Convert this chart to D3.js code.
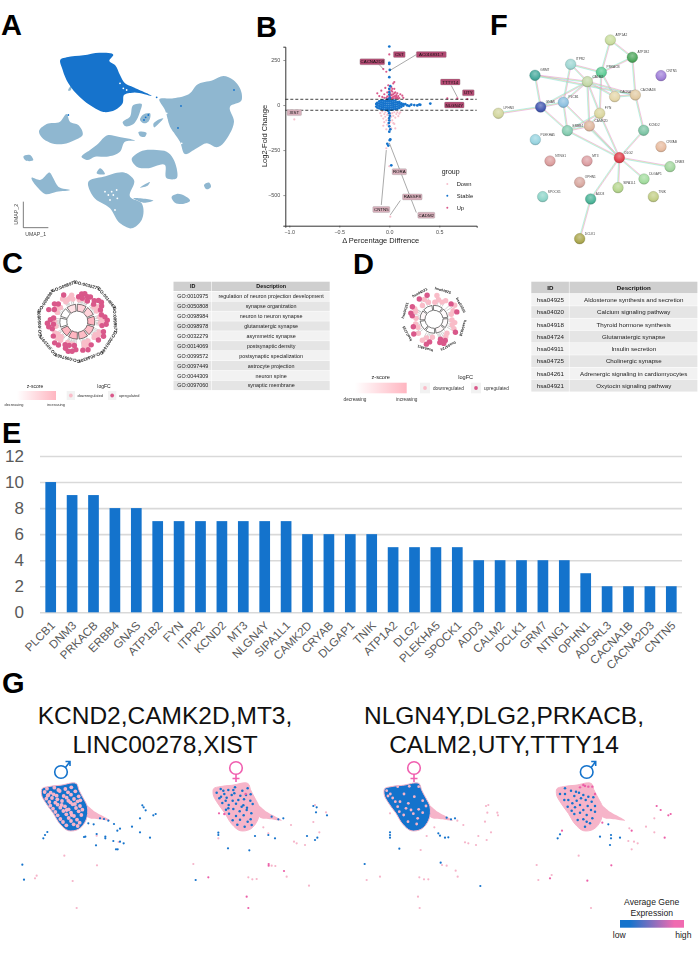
<!DOCTYPE html>
<html><head><meta charset="utf-8">
<script src="https://cdn.jsdelivr.net/npm/d3@7/dist/d3.min.js"></script>
<style>html,body{margin:0;padding:0;background:#fff}svg{display:block}text{font-family:"Liberation Sans",Arial,sans-serif}</style>
</head><body><svg id="c" width="698" height="953" xmlns="http://www.w3.org/2000/svg"></svg>
<script>
// ---------- Panel A: UMAP cluster outlines (umap units) ----------
const umapTarget=[[182,178],[200,172],[250,166],[300,158],[340,165],[328,183],[345,195],[360,225],[375,250],[400,262],[455,288],[400,278],[372,285],[368,310],[345,330],[310,336],[280,322],[240,292],[205,250],[188,210]];
const umapOthers=[
[[478,298],[520,295],[570,280],[590,255],[640,240],[670,228],[700,240],[725,280],[725,300],[690,320],[702,365],[690,400],[650,442],[620,430],[590,445],[555,462],[540,425],[510,380],[495,330]],
[[117,395],[140,372],[180,365],[200,342],[210,365],[235,375],[248,405],[225,420],[190,432],[150,428],[125,412]],
[[245,472],[270,450],[290,435],[325,405],[355,410],[405,422],[375,425],[360,455],[320,470],[285,470],[260,480]],
[[368,368],[390,350],[400,315],[425,312],[420,335],[395,375],[375,378]],
[[415,397],[440,400],[435,410],[420,408]],
[[428,345],[450,340],[445,365],[432,370],[420,360]],
[[395,478],[420,455],[470,450],[500,455],[530,505],[530,535],[500,535],[495,495],[440,505],[410,500]],
[[70,470],[90,465],[100,480],[75,480]],
[[95,533],[120,540],[150,518],[160,535],[175,560],[210,570],[170,575],[135,582],[115,565]],
[[265,545],[310,530],[380,520],[402,540],[390,590],[425,610],[425,660],[395,685],[360,670],[330,625],[280,590]],
[[420,563],[450,547],[445,555]],[[290,520],[300,505],[315,522]],[[400,595],[460,602],[430,608]],
[[515,590],[530,582],[570,603],[545,612],[525,608]],[[612,555],[628,548],[633,560],[620,568]],[[205,272],[215,255],[210,272]],
[[460,372],[470,362],[490,355],[475,372],[462,382]]];
const umapHoles=[[340,585],[350,570],[330,600],[345,630],[352,595],[315,575],[500,340],[520,400],[530,430],[370,265],[360,250],[380,270],[335,575],[325,585],[500,360],[545,430]];
const umapDark=[[432,360],[437,352],[445,345],[205,345],[470,292],[543,318],[702,270],[534,384]];
// ---------- Panel B: volcano values ----------
const volUp=[[0,281],[-.06,200],[-.03,185],[.58,37],[.68,37],[.78,33],[-.12,65],[-.1,50],[-.08,80],[-.07,45],[-.05,60],[-.04,95],[-.03,40],[-.02,70],[-.01,110],[0,50],[0,85],[.01,40],[.01,65],[.02,100],[.02,55],[.03,75],[.03,42],[.04,120],[.04,60],[.05,90],[.05,48],[.06,70],[.06,38],[.07,55],[.08,42],[.08,65],[.09,50],[.1,38],[.11,60],[.13,52],[.14,40],[.05,128],[-.02,48],[-.05,40],[.02,38],[.04,36],[.06,50],[.07,40],[.09,36],[.03,58],[.05,66],[.02,80],[.01,52],[.04,46],[.07,46],[-.01,36],[.03,90]];
const volDown=[[0,-340],[.01,-620],[-.03,-240],[-.95,-80],[-.09,-45],[-.08,-60],[-.07,-35],[-.06,-75],[-.05,-50],[-.05,-95],[-.04,-40],[-.04,-65],[-.03,-85],[-.02,-55],[-.02,-110],[-.01,-45],[-.01,-75],[.01,-50],[.01,-95],[.02,-65],[.02,-130],[.03,-45],[.03,-85],[.04,-60],[.05,-40],[.05,-105],[.06,-70],[.07,-50],[.08,-40],[.09,-62],[.1,-48],[.11,-40],[.06,-130],[-.03,-135],[-.06,-115],[.04,-100]];
const volStable=[[0,325],[0,235],[0,228],[.005,195],[0,155],[.01,105],[0,90],[0,72],[0,58],[.005,42],[0,35],[-.01,-32],[0,-45],[.005,-60],[0,-72],[0,-85],[-.005,-100],[0,-118],[.01,-135],[0,-148],[.01,-190],[.005,-195],[-.01,-225],[-.02,-215],[.02,-335],
[-.13,-8],[-.13,6],[-.12,-14],[-.12,2],[-.12,12],[-.1,-18],[-.1,-5],[-.1,8],[-.1,20],[-.08,-22],[-.08,-10],[-.08,2],[-.08,14],[-.08,25],[-.06,-24],[-.06,-12],[-.06,0],[-.06,12],[-.06,24],[-.04,-26],[-.04,-14],[-.04,-2],[-.04,10],[-.04,22],[-.02,-28],[-.02,-16],[-.02,-4],[-.02,8],[-.02,20],[-.02,30],[0,-28],[0,-16],[0,-4],[0,8],[0,20],[0,30],[.02,-26],[.02,-14],[.02,-2],[.02,10],[.02,22],[.04,-24],[.04,-12],[.04,0],[.04,12],[.04,24],[.06,-22],[.06,-10],[.06,2],[.06,14],[.06,25],[.08,-20],[.08,-8],[.08,4],[.08,16],[.1,-16],[.1,-4],[.1,8],[.1,18],[.12,-10],[.12,2],[.12,10],[.14,-4],[.14,5],[.16,5],[.18,-2],[.2,-5],[.22,2],[.25,0],[.28,-2],[.3,3],[.31,1],[.41,8]];
const volLabels=[["CST",.1,281,1],["AC016831.7",.42,280,1],["CACNA2D3",-.17,240,1],["TTTY14",.61,128,1],["UTY",.79,68,1],["NLGN4Y",.65,0,1],["XIST",-.95,-42,0],["RORA",.1,-370,0],["RASSF8",.23,-510,0],["CNTN5",-.08,-580,0],["CADM2",.37,-612,0]];
const volLinks=[[-.11,230,-.06,200],[.27,280,0,190],[.62,108,.68,45],[.27,-597,0,-210],[-.08,-555,-.03,-250],[.11,-530,.01,-610]];
const volTicksX=[-1,-.5,0,.5], volTicksY=[250,0,-250,-500];
const volGroups=["Down","Stable","Up"];
// ---------- Panel C ----------
const goIds=["GO:0010975","GO:0050808","GO:0098984","GO:0098978","GO:0032279","GO:0014069","GO:0099572","GO:0097449","GO:0044309","GO:0097060"];
const goDesc=["regulation of neuron projection development","synapse organization","neuron to neuron synapse","glutamatergic synapse","asymmetric synapse","postsynaptic density","postsynaptic specialization","astrocyte projection","neuron spine","synaptic membrane"];
const goZ=[.6,.6,1,.9,.9,1,1,0,0,.4];
const goSector=[6,7,8,9,0,1,2,3,4,5];
const goDots=[[0,-12,25,1],[0,-6,28,1],[0,0,29,1],[0,7,27,1],[0,13,28,1],[0,-3,24,1],[0,5,23,0],[0,-10,22,0],[0,11,23,1],
[1,-12,27,1],[1,-6,30,1],[1,0,31,1],[1,6,29,1],[1,12,26,1],[1,-8,24,1],[1,3,25,0],[1,10,22,0],[1,-3,22,0],
[2,-13,25,1],[2,-7,28,1],[2,0,30,1],[2,8,29,1],[2,12,25,1],[2,0,25,0],[2,6,23,0],[2,-8,23,0],
[3,-12,28,1],[3,-4,30,1],[3,8,28,1],[3,0,25,0],[3,10,23,0],[3,-8,24,0],[3,3,22,0],
[4,-10,27,1],[4,0,30,1],[4,10,29,1],[4,-3,25,0],[4,5,25,0],[4,-8,22,0],[4,3,22,0],
[5,-12,28,1],[5,-5,30,1],[5,2,31,1],[5,9,29,1],[5,13,26,1],[5,-8,24,1],[5,4,25,1],[5,10,23,0],[5,-2,23,0],
[6,-12,30,1],[6,-4,31,1],[6,8,28,1],[6,12,25,0],[6,-9,25,0],[6,0,26,0],[6,6,23,0],[6,-4,22,0],
[7,-13,26,1],[7,-7,29,1],[7,0,30,1],[7,7,27,1],[7,12,24,1],[7,-3,24,1],[7,4,23,0],[7,-9,22,0],
[8,-10,31,1],[8,0,25,0],[8,5,29,1],[8,10,26,1],[8,-5,26,1],[8,-8,22,0],[8,7,22,0],
[9,-12,27,0],[9,-6,30,1],[9,4,25,0],[9,10,23,0],[9,-3,24,0],[9,9,27,0],[9,-9,23,0]];
// ---------- Panel D ----------
const keggIds=["hsa04925","hsa04020","hsa04918","hsa04724","hsa04911","hsa04725","hsa04261","hsa04921"];
const keggDesc=["Aldosterone synthesis and secretion","Calcium signaling pathway","Thyroid hormone synthesis","Glutamatergic synapse","Insulin secretion","Cholinergic synapse","Adrenergic signaling in cardiomyocytes","Oxytocin signaling pathway"];
const keggSector=[0,1,2,3,4,5,6,7];
const keggZ=[0,.05,.05,.1,0,0,.1,0];
const keggDots=[[0,-14,17,0],[0,-4,20,0],[0,8,19,0],[0,15,22,0],[0,-10,24,0],
[1,-14,23,1],[1,-6,25,0],[1,4,21,0],[1,12,18,0],[1,10,24,1],
[2,-15,18,0],[2,-8,21,0],[2,0,19,0],[2,8,22,0],[2,14,25,1],
[3,-15,19,0],[3,-6,21,0],[3,0,24,1],[3,6,26,1],[3,14,24,1],[3,10,21,1],
[4,-12,18,0],[4,-6,23,1],[4,5,20,0],[4,12,24,0],[4,0,26,1],
[5,-14,21,0],[5,-8,25,1],[5,2,18,0],[5,8,22,1],[5,14,19,0],
[6,-14,18,0],[6,-8,22,1],[6,-2,24,1],[6,6,20,0],[6,12,22,0],[6,13,25,1],
[7,-12,18,0],[7,-8,25,1],[7,2,22,0],[7,10,18,0],[7,12,25,1]];
const sharedLegend=["downregulated","upregulated"];
// ---------- Panel E ----------
const genes=["PLCB1","DNM3","PRKACB","ERBB4","GNAS","ATP1B2","FYN","ITPR2","KCND2","MT3","NLGN4Y","SIPA1L1","CAMK2D","CRYAB","DLGAP1","TNIK","ATP1A2","DLG2","PLEKHA5","SPOCK1","ADD3","CALM2","DCLK1","GRM7","NTNG1","OPHN1","ADGRL3","CACNA1B","CACNA2D3","CNTN5"];
const geneCounts=[10,9,9,8,8,7,7,7,7,7,7,7,6,6,6,6,5,5,5,5,4,4,4,4,4,3,2,2,2,2];
const countTicks=[0,2,4,6,8,10,12];
// ---------- Panel F: STRING network ----------
const netNodes=[["ATP1A2",391,120,"#c9dd9e"],["ATP1B2",457,172,"#4ea65c"],["GRM7",165,226,"#46a99c"],["ITPR2",272,193,"#9ed6d2"],["PRKACB",364,217,"#5ccb94"],["CALM2",322,245,"#c3d8a6"],["CACNA2D3",404,290,"#e4d6a8"],["CACNA1B",466,285,"#e2caa2"],["PLCB1",250,307,"#8cc0e0"],["GNAS",182,321,"#4458b0"],["FYN",359,340,"#dad69e"],["CAMK2D",328,378,"#deb69e"],["ERBB4",262,392,"#84ccb0"],["KCND2",491,391,"#7cc4a4"],["LPHN3",55,340,"#d2d69e"],["PLEKHA5",166,419,"#98d4e0"],["CRYAB",543,440,"#e8bca0"],["NTNG1",210,483,"#dc9e9e"],["MT3",321,483,"#dc9ea2"],["DLG2",418,473,"#e0404c"],["DNM3",570,500,"#a2d69e"],["DLGAP1",492,537,"#a2dc9e"],["SPOCK1",188,590,"#8cd4c8"],["OPHN1",299,547,"#d8a8a0"],["SIPA1L1",414,563,"#b6d68e"],["TNIK",520,590,"#c2ce86"],["ADD3",332,597,"#4cb498"],["DCLK1",299,716,"#aca850"],["CNTN5",543,227,"#a080d8"]];
const netEdges=[["ATP1A2","ATP1B2"],["ATP1A2","PRKACB"],["ATP1B2","PRKACB"],["ATP1B2","CACNA1B"],["ITPR2","PRKACB"],["ITPR2","CALM2"],["ITPR2","PLCB1"],["GRM7","CALM2"],["GRM7","GNAS"],["GRM7","CACNA1B"],["PRKACB","CALM2"],["PRKACB","FYN"],["PRKACB","CACNA2D3"],["CALM2","CACNA2D3"],["CALM2","CACNA1B"],["CALM2","GNAS"],["CALM2","PLCB1"],["CALM2","FYN"],["CALM2","CAMK2D"],["CACNA2D3","CACNA1B"],["CACNA1B","KCND2"],["PLCB1","GNAS"],["GNAS","LPHN3"],["GNAS","ERBB4"],["PLCB1","ERBB4"],["PLCB1","DLG2"],["FYN","ERBB4"],["FYN","CAMK2D"],["FYN","DLG2"],["CAMK2D","DLG2"],["CAMK2D","ERBB4"],["ERBB4","DLG2"],["KCND2","DLG2"],["DLG2","DNM3"],["DLG2","DLGAP1"],["DLG2","SIPA1L1"],["DLG2","ADD3"],["ADD3","DCLK1"]];
// ---------- Panel G ----------
const gTitles=[["KCND2,CAMK2D,MT3,","LINC00278,XIST"],["NLGN4Y,DLG2,PRKACB,","CALM2,UTY,TTTY14"]];
const gSexes=["m","f","f","m"];
const gBody=[[126,356],[145,350],[180,346],[232,344],[236,358],[250,385],[262,410],[258,450],[235,478],[205,482],[180,462],[160,430],[135,395],[125,375]];
const gTail=[[255,405],[285,425],[330,452],[300,448],[262,440],[255,425]];
const gBaseLow=[1,0,1,0];
const gSpecks=[
[[141,356],[163,353],[196,357],[214,352],[134,366],[152,368],[179,363],[204,367],[226,364],[143,377],[161,373],[191,378],[213,374],[236,379],[139,386],[156,384],[172,388],[200,383],[222,387],[241,391],[148,396],[166,398],[186,393],[211,397],[233,394],[151,407],[173,404],[195,409],[218,403],[240,408],[159,416],[181,413],[206,418],[228,414],[247,419],[166,426],[190,423],[213,428],[236,424],[173,436],[199,433],[222,438],[244,435],[181,447],[206,444],[231,449],[189,456],[213,453],[239,458],[199,466],[221,463],[233,468],[145,375],[170,377],[205,392],[215,435],[185,405],[225,402],[200,420],[175,360]],
[[147,357],[170,360],[190,352],[212,362],[228,355],[135,368],[158,372],[188,370],[206,377],[237,373],[143,385],[165,383],[183,392],[217,388],[236,392],[152,399],[171,405],[193,401],[215,406],[243,402],[163,419],[185,417],[204,424],[226,413],[172,431],[193,438],[216,436],[239,430],[183,451],[205,449],[228,455],[197,464],[219,470],[237,448],[162,392],[200,390],[225,420],[180,375],[210,410],[155,362],[148,380],[240,465],[185,360],[223,375],[170,415]],
[[132,362],[165,350],[200,349],[228,350],[150,384],[184,372],[215,380],[240,392],[165,410],[197,400],[228,418],[183,435],[212,431],[240,428],[196,455],[222,462],[143,372],[172,395],[205,420],[250,408],[158,395],[190,415],[225,445],[170,425],[136,378]],
[[150,372],[168,362],[178,378],[192,368],[185,392],[205,375],[212,390],[195,405],[218,408],[172,400],[160,390],[230,395],[148,390],[180,412],[205,420],[228,420],[195,428],[215,435],[178,432],[240,425],[205,448],[188,450],[225,460],[210,470],[232,445],[240,408],[135,372],[158,410],[170,422],[220,380],[198,385],[183,365],[150,355],[235,382],[215,455]]];
const gTopDeep=[[],[[222,372],[158,432]],[],[[210,348],[220,350],[232,350],[195,352],[240,372],[205,345]]];
const gLow=[
[[265,460],[281,463],[342,462],[360,476],[352,482],[396,470],[420,487],[450,503],[420,445],[427,406],[431,412],[437,421],[460,436],[467,432],[130,505],[135,495],[142,486],[252,501],[256,500],[288,526],[316,500],[316,505],[340,513],[360,515],[371,520],[348,538],[353,538],[67,584],[72,629],[300,445],[312,447],[325,452],[290,492]],
[[765,498],[684,535],[748,541],[587,630],[655,488],[655,495],[921,498],[945,510],[952,503],[948,427],[940,408],[950,412],[981,436],[850,445],[835,448],[815,440],[825,505],[805,495]],
[[1198,536],[1094,582],[1441,648],[1170,487],[1170,495],[1170,503],[1315,490],[1320,497],[1335,503],[1345,502],[1340,443],[1353,448],[1365,445],[1322,578]],
[[1673,505],[1680,493],[1800,500],[1825,463],[1833,495],[1833,505],[1860,503],[1830,525]]];
const gLight=[
[[193,557],[291,586],[218,633],[230,714],[105,625],[110,617],[290,497],[356,516]],
[[873,465],[790,472],[940,456],[958,487],[978,427],[882,515],[890,520],[915,525],[580,582],[745,622],[757,628],[770,627],[927,647],[860,620],[815,587],[826,588],[655,505],[805,490],[945,405]],
[[1170,430],[1303,472],[1280,498],[1390,465],[1372,452],[1435,498],[1473,487],[1460,510],[1395,517],[1405,520],[1428,525],[1262,540],[1458,408],[1465,405],[1462,428],[1455,455],[1492,428],[1494,436],[1140,620],[1100,630],[1272,628],[1285,628],[1258,622],[1254,680],[1259,714],[1367,602],[1373,620],[1326,585],[1340,587]],
[[1736,557],[1610,585],[1615,630],[1655,615],[1773,714],[1888,475],[1885,513],[1902,515],[1913,520],[1895,538],[1938,470],[1963,445],[1963,487]]];
const gDeep=[[],[[806,582],[806,587],[852,603],[625,622],[740,680],[745,714],[657,430]],[],[[1807,458],[1895,482],[1970,408],[1982,420],[1994,503],[2005,436],[2012,432],[1834,586],[1762,632],[1650,625],[1686,482]]];
const gLegendText=["Average Gene","Expression"];
const gLegendEnds=["low","high"];
const panelLetters=["A","B","C","D","E","F","G"];

// ---------- Rendering ----------
const W=698,H=953,BLUE="#1473cc",LIGHT="#8fb7d0";
const svg=d3.select("#c");
const defs=svg.append("defs");
defs.append("filter").attr("id","soft").attr("x",0).attr("y",0).attr("width",1).attr("height",1).attr("filterUnits","objectBoundingBox")
  .append("feGaussianBlur").attr("stdDeviation",.35);
const soft=svg.append("g").attr("filter","url(#soft)");
soft.append("rect").attr("width",W).attr("height",H).attr("fill","#fff");
const txt=(g,t,x,y,fs,o={})=>g.append("text").text(t).attr("x",x).attr("y",y).attr("font-size",fs).attr("fill",o.fill||"#1a1a1a").attr("text-anchor",o.anchor||"start").attr("font-weight",o.weight||null).attr("transform",o.rot!=null?`rotate(${o.rot} ${x} ${y})`:null);

// panel letters
const letterX=[1,256,2,353,2,490,2], letterY=[35,37,273,274,443,35,693];
panelLetters.forEach((l,i)=>txt(svg,l,letterX[i],letterY[i],29,{fill:"#000",weight:"bold"}));

// A
(function(){
 const g=soft.append("g"),x=d3.scaleLinear([0,750],[0,250]),y=d3.scaleLinear([0,750],[0,250]);
 const ln=d3.line(d=>x(d[0]),d=>y(d[1])).curve(d3.curveCatmullRomClosed.alpha(1));
 g.selectAll(".o").data(umapOthers).join("path").attr("d",ln).attr("fill",LIGHT);
 g.append("path").attr("d",ln(umapTarget)).attr("fill",BLUE);
 g.selectAll(".h").data(umapHoles).join("circle").attr("cx",d=>x(d[0])).attr("cy",d=>y(d[1])).attr("r",.9).attr("fill","#fff");
 g.selectAll(".k").data(umapDark).join("circle").attr("cx",d=>x(d[0])).attr("cy",d=>y(d[1])).attr("r",.9).attr("fill",BLUE);
 g.append("path").attr("d",`M${x(70)},${y(605)}V${y(683)}H${x(145)}`).attr("fill","none").attr("stroke","#444").attr("stroke-width",.7);
 txt(g,"UMAP_1",x(107),y(708),5.2,{anchor:"middle",fill:"#444"});
 txt(g,"UMAP_2",x(53),y(643),5.2,{anchor:"middle",fill:"#444",rot:-90});
})();

// B
(function(){
 const g=soft.append("g"),x=d3.scaleLinear([-1.04,.874],[285.3,476.7]),y=d3.scaleLinear([324,-670],[46.7,225.7]);
 const dots=(d,c,r)=>g.append("g").selectAll("circle").data(d).join("circle").attr("cx",p=>x(p[0])).attr("cy",p=>y(p[1])).attr("r",r).attr("fill",c);
 dots(volDown,"#f7c0cd",1.1);dots(volUp,"#d9588a",1.1);dots(volStable,BLUE,1.35);
 [32,-29].forEach(v=>g.append("line").attr("x1",285.3).attr("x2",476.7).attr("y1",y(v)).attr("y2",y(v)).attr("stroke","#111").attr("stroke-width",.8).attr("stroke-dasharray","3,2"));
 const ax=g.append("g").attr("transform","translate(0,225.7)").call(d3.axisBottom(x).tickValues(volTicksX).tickFormat(d3.format(".1f")).tickSize(2));
 const ay=g.append("g").attr("transform","translate(285.3,0)").call(d3.axisLeft(y).tickValues(volTicksY).tickSize(2));
 [ax,ay].forEach(a=>{a.select(".domain").attr("stroke","#333").attr("stroke-width",1);a.selectAll("text").attr("font-size",5.4).attr("fill","#4d4d4d").attr("font-family",null);a.selectAll(".tick line").attr("stroke","#333").attr("stroke-width",.5);});
 ax.selectAll("text").attr("dy","0.6em");
 g.selectAll(".l").data(volLinks).join("line").attr("x1",d=>x(d[0])).attr("y1",d=>y(d[1])).attr("x2",d=>x(d[2])).attr("y2",d=>y(d[3])).attr("stroke","#555").attr("stroke-width",.5);
 volLabels.forEach(d=>{
  const w=d[0].length*2.6+4;
  g.append("rect").attr("x",x(d[1])-w/2).attr("y",y(d[2])-3).attr("width",w).attr("height",6).attr("rx",1).attr("fill",d[3]?"#b24a72":"#d8afbb").attr("stroke","#999").attr("stroke-width",.3);
  txt(g,d[0],x(d[1]),y(d[2])+1.6,4.4,{anchor:"middle",fill:"#111"});
 });
 txt(g,"Log2-Fold Change",267,136,7.5,{anchor:"middle",rot:-90,fill:"#222"});
 txt(g,"Δ Percentage Diffrence",380.7,243,7.5,{anchor:"middle",fill:"#222"});
 txt(g,"group",441.7,173.5,7,{fill:"#222"});
 const ly=d3.scalePoint(volGroups,[184,207.7]),lc={Down:"#f7c0cd",Stable:BLUE,Up:"#d9588a"};
 volGroups.forEach(n=>{g.append("circle").attr("cx",447.3).attr("cy",ly(n)).attr("r",1).attr("fill",lc[n]);txt(g,n,456.7,ly(n)+2,5.8,{fill:"#222"});});
})();

// C / D circular plots
function goCircle(cfg){
 const g=soft.append("g").attr("transform",`translate(${cfg.cx},${cfg.cy})`);
 const n=cfg.ids.length,step=360/n,color=d3.scaleLinear([0,1],["#ffffff","#ffb6c1"]);
 const a=i=>cfg.start+i*step;
 const pol=(deg,r)=>[r*Math.sin(deg*Math.PI/180),-r*Math.cos(deg*Math.PI/180)];
 cfg.dots.forEach(d=>{const t=a(d[0])+d[1];const p0=pol(t,cfg.r1+1),p1=pol(t,d[2]);
   g.append("line").attr("x1",p0[0]).attr("y1",p0[1]).attr("x2",p1[0]).attr("y2",p1[1]).attr("stroke","#bdbdbd").attr("stroke-width",.7);});
 const arc=d3.arc().innerRadius(cfg.r0).outerRadius(cfg.r1);
 cfg.z.forEach((z,i)=>{g.append("path").attr("d",arc({startAngle:(a(i)-step/2+3)*Math.PI/180,endAngle:(a(i)+step/2-3)*Math.PI/180})).attr("fill",color(z)).attr("stroke","#222").attr("stroke-width",.6);});
 [0,1].forEach(u=>cfg.dots.filter(d=>d[3]===u).forEach(d=>{const p=pol(a(d[0])+d[1],d[2]);
   g.append("circle").attr("cx",p[0]).attr("cy",p[1]).attr("r",cfg.dotR).attr("fill",u?"#d9588a":"#f9bcc8");}));
 cfg.sector.forEach((s,k)=>{const deg=a(s);const p=pol(deg,cfg.rt);
   g.append("text").text(cfg.ids[k]).attr("font-size",cfg.fs).attr("font-weight","bold").attr("fill","#222").attr("text-anchor","middle").attr("dominant-baseline","middle")
    .attr("transform",`translate(${p[0]},${p[1]}) rotate(${deg})`);});
 const L=cfg.leg,l=soft.append("g");
 const gid="grad"+cfg.id;
 const gr=defs.append("linearGradient").attr("id",gid);
 gr.append("stop").attr("offset",0).attr("stop-color","#fff");gr.append("stop").attr("offset",1).attr("stop-color","#ffb6c1");
 l.append("rect").attr("x",L.bx).attr("y",L.by).attr("width",L.bw).attr("height",L.bh).attr("fill",`url(#${gid})`);
 txt(l,"z-score",L.zx,L.ty,L.fs,{anchor:"middle",fill:"#222"});
 txt(l,"logFC",L.lx,L.ty,L.fs,{anchor:"middle",fill:"#222"});
 txt(l,"decreasing",L.bx-L.dx,L.dy,L.fs2,{anchor:"middle",fill:"#333"});
 txt(l,"increasing",L.bx+L.bw,L.dy,L.fs2,{anchor:"middle",fill:"#333"});
 sharedLegend.forEach((t,i)=>{
  l.append("rect").attr("x",L.kx[i]).attr("y",L.by).attr("width",L.ks).attr("height",L.bh).attr("fill","#f2f2f2");
  l.append("circle").attr("cx",L.kx[i]+L.ks/2).attr("cy",L.by+L.bh/2).attr("r",cfg.dotR*.7).attr("fill",i?"#d9588a":"#f9bcc8");
  txt(l,t,L.kx[i]+L.ks+L.gap,L.by+L.bh/2+1.5,L.fs2,{fill:"#333"});
 });
 // table
 const T=cfg.tab,t=soft.append("g");
 const cols=[T.x0,T.x1,T.x2];
 const rowY=d3.scaleLinear([0,1],[T.y+T.hh+.6,T.y+T.hh+.6+T.rh]);
 [0,1].forEach(c=>{t.append("rect").attr("x",cols[c]).attr("y",T.y).attr("width",cols[c+1]-cols[c]-.6).attr("height",T.hh).attr("fill","#cfcfcf");
   txt(t,["ID","Description"][c],(cols[c]+cols[c+1])/2,T.y+T.hh/2+T.fs*.36,T.fs,{anchor:"middle",weight:"bold",fill:"#111"});});
 cfg.ids.forEach((id,i)=>{[id,cfg.desc[i]].forEach((s,c)=>{
   t.append("rect").attr("x",cols[c]).attr("y",rowY(i)).attr("width",cols[c+1]-cols[c]-.6).attr("height",T.rh-.5).attr("fill",i%2?"#e5e5e5":"#f2f2f2");
   txt(t,s,(cols[c]+cols[c+1])/2,rowY(i)+T.rh/2+T.fs*.34,T.fs,{anchor:"middle",fill:"#222"});});});
}
goCircle({id:"C",cx:77.3,cy:321.7,ids:goIds,desc:goDesc,z:goZ,sector:goSector,dots:goDots,start:15,r0:10.5,r1:17.5,rt:37.5,fs:4.5,dotR:2.7,
 leg:{bx:17,by:391,bw:39,bh:9,zx:35,lx:104,ty:388,fs:5,fs2:3.9,dx:3,dy:405.5,kx:[66.7,108],ks:8.3,gap:2.5},
 tab:{x0:173.5,x1:212,x2:330.3,y:281.7,hh:9.3,rh:9.9,fs:5.4}});
goCircle({id:"D",cx:434,cy:319.3,ids:keggIds,desc:keggDesc,z:keggZ,sector:keggSector,dots:keggDots,start:17,r0:9,r1:14,rt:30,fs:3.7,dotR:2.7,
 leg:{bx:355,by:382.7,bw:51.7,bh:10.6,zx:380.7,lx:465.7,ty:379,fs:5.6,fs2:4.7,dx:0,dy:401,kx:[420,471],ks:10,gap:3},
 tab:{x0:531.3,x1:569.5,x2:698,y:281.7,hh:11.6,rh:12.27,fs:6.2}});

// E
(function(){
 const g=svg.append("g"),x=d3.scaleBand(genes,[40,682]).paddingInner(.5).paddingOuter(.25),y=d3.scaleLinear([0,12],[612.3,456]);
 const ay=g.append("g").attr("transform","translate(40,0)").call(d3.axisLeft(y).tickValues(countTicks).tickSize(-642).tickPadding(16));
 ay.select(".domain").remove();
 ay.selectAll(".tick line").attr("stroke","#d9d9d9").attr("stroke-width",1.6);
 ay.selectAll("text").attr("font-size",17).attr("fill","#595959").attr("font-family",null);
 g.selectAll(".bar").data(genes).join("rect").attr("x",d=>x(d)).attr("width",x.bandwidth()).attr("y",(d,i)=>y(geneCounts[i])).attr("height",(d,i)=>y(0)-y(geneCounts[i])).attr("fill",BLUE);
 const ax=g.append("g").attr("transform","translate(0,612.3)").call(d3.axisBottom(x).tickSize(0));
 ax.select(".domain").remove();
 ax.selectAll("text").attr("font-size",11.6).attr("fill","#595959").attr("font-family",null).attr("text-anchor","end").attr("dx",0).attr("dy",0).attr("y",0).attr("transform","translate(5,14) rotate(-45)");
})();

// F
(function(){
 const g=soft.append("g"),x=d3.scaleLinear([0,654],[480,698]),y=d3.scaleLinear([0,750],[0,250]);
 const byId=new Map(netNodes.map(d=>[d[0],d]));
 const strokes=["#e080e0","#d8e878","#80dce0"],off=[-.6,0,.6];
 netEdges.forEach(e=>{const a=byId.get(e[0]),b=byId.get(e[1]);const x1=x(a[1]),y1=y(a[2]),x2=x(b[1]),y2=y(b[2]);const L=Math.hypot(x2-x1,y2-y1),nx=-(y2-y1)/L,ny=(x2-x1)/L;
  strokes.forEach((s,i)=>g.append("line").attr("x1",x1+nx*off[i]).attr("y1",y1+ny*off[i]).attr("x2",x2+nx*off[i]).attr("y2",y2+ny*off[i]).attr("stroke",s).attr("stroke-width",.5));});
 netNodes.forEach((d,i)=>{
  const id="n"+i,gr=defs.append("radialGradient").attr("id",id).attr("cx",.5).attr("cy",.35).attr("r",.7);
  gr.append("stop").attr("offset",0).attr("stop-color",d3.interpolateRgb(d[3],"#fff")(.35));
  gr.append("stop").attr("offset",.7).attr("stop-color",d[3]);
  gr.append("stop").attr("offset",1).attr("stop-color",d3.color(d[3]).darker(.7));
  g.append("circle").attr("cx",x(d[1])).attr("cy",y(d[2])).attr("r",5.3).attr("fill",`url(#${id})`).attr("stroke",d3.color(d[3]).darker(1)).attr("stroke-width",.3);
  txt(g,d[0],x(d[1])+5.2,y(d[2])-4,3.2,{fill:"#444"});
 });
})();

// G
(function(){
 const x=d3.scaleLinear([0,2094],[0,698]),y=d3.scaleLinear([0,849],[670,953]);
 const g=svg.append("g"),pink="#f6b4c9",deep="#ec5fa8";
 const shift=[0,515,1028,1545];
 const poly=d3.line(d=>x(d[0]),d=>y(d[1])).curve(d3.curveCatmullRomClosed.alpha(1));
 const titleX=[165,504],titleY=[724,753];
 gTitles.forEach((t,i)=>t.forEach((s,j)=>txt(g,s,titleX[i],titleY[j],24.5,{anchor:"middle",fill:"#111"})));
 const symX=[61,236,414,586.7],symY=[772,768,768,772];
 gSexes.forEach((s,i)=>{
  const c=s==="m"?BLUE:"#f060b0",k=g.append("g").attr("fill","none").attr("stroke",c).attr("stroke-width",1.6);
  k.append("circle").attr("cx",symX[i]).attr("cy",symY[i]).attr("r",6.3);
  if(s==="m")k.append("path").attr("d",`M${symX[i]+4.5},${symY[i]-4.5}L${symX[i]+9},${symY[i]-10.5}M${symX[i]+4.5},${symY[i]-10.5}H${symX[i]+9}V${symY[i]-6}`);
  else k.append("path").attr("d",`M${symX[i]},${symY[i]+6}V${symY[i]+14}M${symX[i]-3.5},${symY[i]+10.5}H${symX[i]+3.5}`);
 });
 gBaseLow.forEach((b,i)=>{
  const sft=p=>[p[0]+shift[i],p[1]];
  const G=g.append("g");
  G.append("path").attr("d",poly(gTail.map(sft))).attr("fill",pink);
  G.append("path").attr("d",poly(gBody.map(sft))).attr("fill",b?BLUE:pink).attr("stroke",pink).attr("stroke-width",1);
  G.selectAll(".s").data(gSpecks[i]).join("circle").attr("cx",p=>x(p[0]+shift[i])).attr("cy",p=>y(p[1])).attr("r",i===0?1.9:(b?1.4:1.25)).attr("fill",b?pink:BLUE);
  G.selectAll(".d").data(gTopDeep[i]).join("circle").attr("cx",p=>x(p[0]+shift[i])).attr("cy",p=>y(p[1])).attr("r",1.2).attr("fill",deep);
  const pts=(d,c)=>G.append("g").selectAll("circle").data(d).join("circle").attr("cx",p=>x(p[0])).attr("cy",p=>y(p[1])).attr("r",1.1).attr("fill",c);
  pts(gLight[i],pink);pts(gDeep[i],deep);pts(gLow[i],BLUE);
 });
 txt(g,gLegendText[0],651.7,905,8.6,{anchor:"middle",fill:"#222"});
 txt(g,gLegendText[1],651.7,916,8.6,{anchor:"middle",fill:"#222"});
 const gr=defs.append("linearGradient").attr("id","gExpr");
 gr.append("stop").attr("offset",.15).attr("stop-color",BLUE);gr.append("stop").attr("offset",.85).attr("stop-color","#f06ab0");
 g.append("rect").attr("x",620).attr("y",920).attr("width",64).attr("height",7.7).attr("fill","url(#gExpr)");
 txt(g,gLegendEnds[0],619.3,938,8.6,{anchor:"middle",fill:"#222"});
 txt(g,gLegendEnds[1],683.3,938,8.6,{anchor:"middle",fill:"#222"});
})();
</script></body></html>
